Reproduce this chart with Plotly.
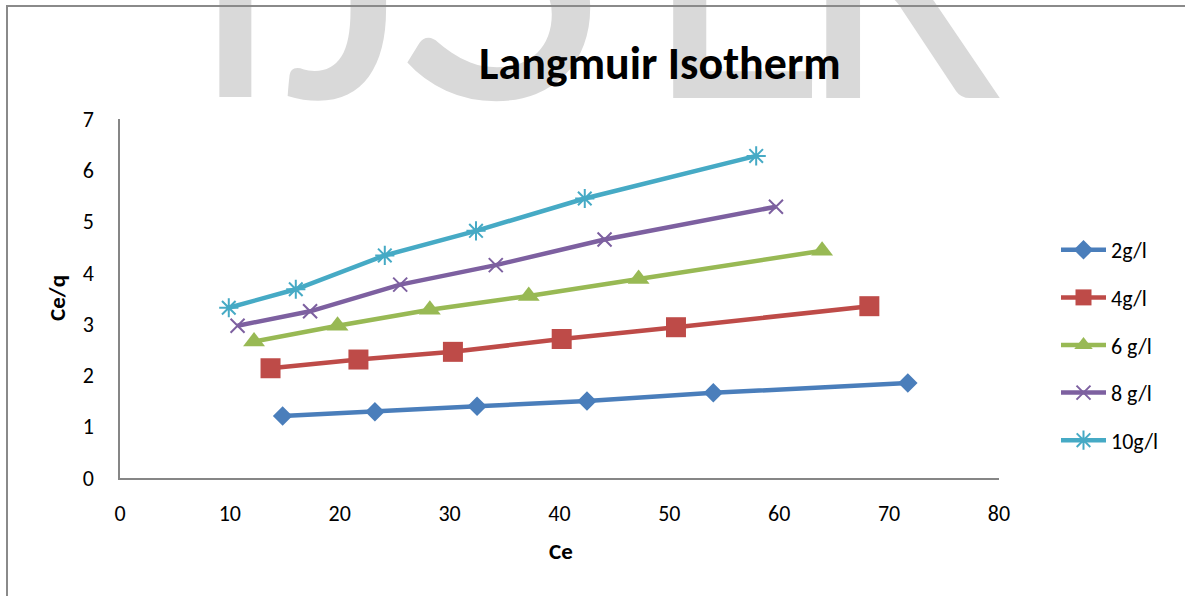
import plotly.graph_objects as go

# ---- data ----
ce_2 = [14.8, 23.2, 32.5, 42.5, 54.0, 71.7]
q_2 = [1.21, 1.29, 1.40, 1.50, 1.66, 1.85]
ce_4 = [13.7, 21.7, 30.3, 40.2, 50.6, 68.2]
q_4 = [2.14, 2.31, 2.46, 2.71, 2.94, 3.35]
ce_6 = [12.2, 19.8, 28.2, 37.2, 47.2, 63.9]
q_6 = [2.66, 2.97, 3.28, 3.55, 3.88, 4.43]
ce_8 = [10.7, 17.3, 25.5, 34.2, 44.1, 59.7]
q_8 = [2.97, 3.25, 3.77, 4.15, 4.65, 5.29]
ce_10 = [9.9, 16.0, 24.1, 32.4, 42.3, 57.9]
q_10 = [3.32, 3.68, 4.34, 4.82, 5.45, 6.28]

series_names = ["2g/l", "4g/l", "6 g/l", "8 g/l", "10g/l"]
x_ticks = [0, 10, 20, 30, 40, 50, 60, 70, 80]
y_ticks = [0, 1, 2, 3, 4, 5, 6, 7]

# ---- layout geometry (pixels) ----
W, H = 1185, 596
L, R, T, B = 120, 999, 119, 478


def xp(px):
    return (px - L) / (R - L)


def yp(py):
    return (B - py) / (B - T)


FONT = "Carlito, Open Sans, sans-serif"

styles = [
    dict(color="#4A7EBB", symbol="diamond", size=15, lw=0),
    dict(color="#BE4B48", symbol="square", size=20, lw=0),
    dict(color="#98B954", symbol="triangle-up", size=19, lw=0),
    dict(color="#7D60A0", symbol="x-thin-open", size=14, lw=2),
    dict(color="#46AAC5", symbol="asterisk-open", size=16, lw=2),
]
xs = [ce_2, ce_4, ce_6, ce_8, ce_10]
ys = [q_2, q_4, q_6, q_8, q_10]

fig = go.Figure()
for i, (name, x, y, st) in enumerate(zip(series_names, xs, ys, styles)):
    mk = dict(symbol=st["symbol"], size=st["size"], color=st["color"])
    if st["lw"]:
        mk["line"] = dict(color=st["color"], width=st["lw"])
    fig.add_trace(go.Scatter(
        x=x, y=y, name=name, mode="lines+markers",
        line=dict(color=st["color"], width=4.5),
        marker=mk, legendgroup=f"g{i}",
    ))

annotations = []
# watermark letters (letter, centre x px, font size)
wm = [("I", 235, 360), ("J", 345, 400), ("S", 500, 460), ("E", 737, 370), ("R", 902, 380)]
for ch, cx, fs in wm:
    annotations.append(dict(
        text=ch, x=xp(cx), y=yp(96 + 100 * fs / 360), xref="paper", yref="paper",
        xanchor="center", yanchor="bottom", showarrow=False,
        font=dict(family="Carlito, Liberation Sans", size=fs, color="#D9D9D9"),
    ))
# frame (top and left lines) drawn above the watermark
annotations.append(dict(
    text=" ", x=xp(6), y=yp(5), xref="paper", yref="paper",
    xanchor="left", yanchor="top", showarrow=False,
    width=1400, height=800, bordercolor="#8A8A8A", borderwidth=2, borderpad=0,
))
# title
annotations.append(dict(
    text="<b>Langmuir Isotherm</b>", x=xp(660), y=yp(63), xref="paper", yref="paper",
    xanchor="center", yanchor="middle", showarrow=False,
    font=dict(family=FONT, size=46, color="#000000"),
))
# axis titles
annotations.append(dict(
    text="<b>Ce</b>", x=xp(561), y=yp(551), xref="paper", yref="paper",
    xanchor="center", yanchor="middle", showarrow=False,
    font=dict(family=FONT, size=23, color="#000000"),
))
annotations.append(dict(
    text="<b>Ce/q</b>", x=xp(57), y=yp(298), xref="paper", yref="paper",
    xanchor="center", yanchor="middle", showarrow=False, textangle=-90,
    font=dict(family=FONT, size=23, color="#000000"),
))

fig.update_layout(
    width=W, height=H,
    margin=dict(l=L, r=W - R, t=T, b=H - B),
    paper_bgcolor="white", plot_bgcolor="white",
    showlegend=True,
    legend=dict(
        x=xp(1056), y=yp(229), xanchor="left", yanchor="top",
        font=dict(family=FONT, size=22, color="#000000"),
        tracegroupgap=16, itemwidth=45, bgcolor="rgba(0,0,0,0)",
    ),
    annotations=annotations,
    xaxis=dict(
        range=[0, 80], tickvals=x_ticks, showgrid=False, zeroline=False,
        showline=True, linecolor="#868686", linewidth=1.5,
        ticks="", ticklabelstandoff=15,
        tickfont=dict(family=FONT, size=22, color="#000000"),
    ),
    yaxis=dict(
        range=[0, 7], tickvals=y_ticks, showgrid=False, zeroline=False,
        showline=True, linecolor="#868686", linewidth=1.5,
        ticks="", ticklabelstandoff=20,
        tickfont=dict(family=FONT, size=22, color="#000000"),
    ),
)

fig.write_html(
    "out.html",
    config={"displayModeBar": False},
    post_script="document.body.style.margin='0';document.body.style.overflow='hidden';",
)
